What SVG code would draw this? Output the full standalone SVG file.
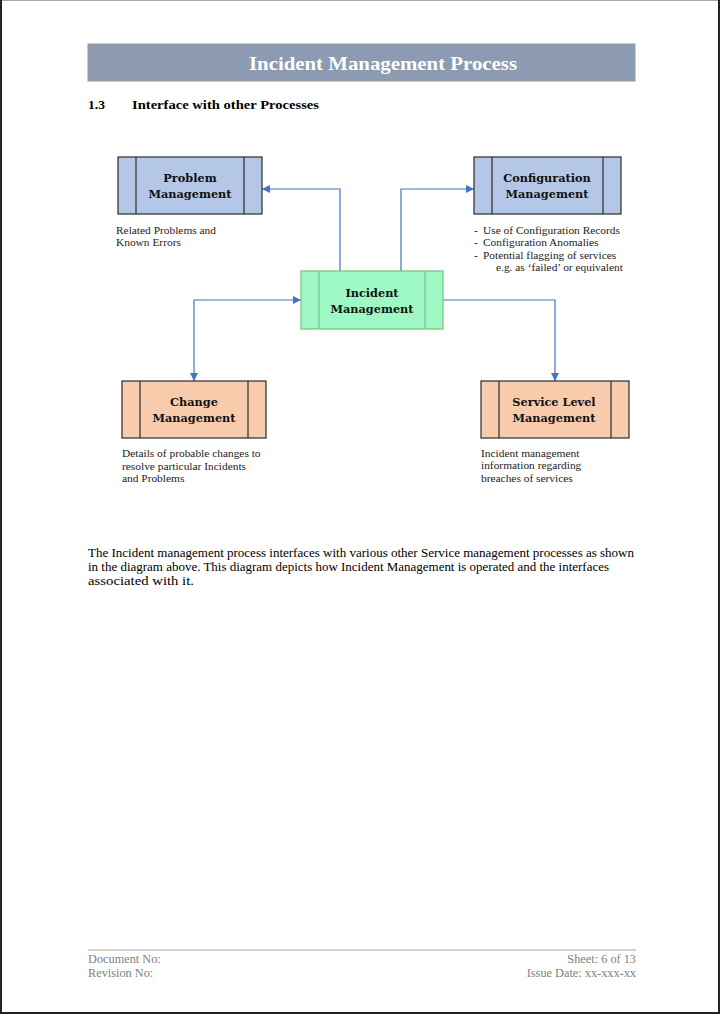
<svg xmlns="http://www.w3.org/2000/svg" width="720" height="1014" viewBox="0 0 720 1014">
<defs>
<style>
.t{font-family:"Liberation Serif","DejaVu Serif",serif;fill:#000}
.b{font-weight:bold}
.title{font-family:"Liberation Serif","DejaVu Serif",serif;font-weight:bold;font-size:19.5px;fill:#fff;text-anchor:middle}
.nt{font-family:"DejaVu Serif","Liberation Serif",serif;font-weight:bold;font-size:11.3px;fill:#111;text-anchor:middle}
.sm{font-family:"Liberation Serif","DejaVu Serif",serif;font-size:11.4px;fill:#222}
.ft{font-family:"Liberation Serif","DejaVu Serif",serif;font-size:12.3px;fill:#808080}
.blue{fill:#b4c7e7;stroke:#2b2b2b;stroke-width:1.2}
.green{fill:#9ef9c4;stroke:#78c47e;stroke-width:1.2}
.peach{fill:#f8cbad;stroke:#2b2b2b;stroke-width:1.2}
.conn{fill:none;stroke:#4472c4;stroke-width:1.2}
</style>
<marker id="ah" viewBox="0 0 10 10" refX="10" refY="5" markerWidth="8" markerHeight="8" markerUnits="userSpaceOnUse" orient="auto-start-reverse">
<path d="M0,0 L10,5 L0,10 z" fill="#4472c4"/>
</marker>
</defs>
<rect x="0" y="0" width="720" height="1014" fill="#fff"/>
<path d="M0.5,1013.5 V0.5 H719.5" fill="none" stroke="#aaa" stroke-width="1"/>
<path d="M1,0 V1013 H719 V0" fill="none" stroke="#222" stroke-width="2"/>

<g id="header">
<rect x="88" y="44" width="547" height="37" fill="#8c9bb1" stroke="#9a9a9a" stroke-width="1"/>
<text x="383" y="70" class="title" textLength="268" lengthAdjust="spacingAndGlyphs">Incident Management Process</text>
</g>
<g id="section">
<text x="88" y="109" class="t b" font-size="13.5">1.3</text>
<text x="132" y="109" class="t b" font-size="13.5" textLength="187" lengthAdjust="spacingAndGlyphs">Interface with other Processes</text>
</g>

<g id="connectors">
<path class="conn" d="M340,271 V189 H262" marker-end="url(#ah)"/>
<path class="conn" d="M401,271 V189 H474" marker-end="url(#ah)"/>
<path class="conn" d="M301,300 H194 V381" marker-start="url(#ah)" marker-end="url(#ah)"/>
<path class="conn" d="M443,300 H555 V381" marker-end="url(#ah)"/>
</g>

<g id="problem">
<rect class="blue" x="118" y="157" width="144" height="57"/>
<line x1="136" y1="157" x2="136" y2="214" stroke="#2b2b2b" stroke-width="1.2"/>
<line x1="244" y1="157" x2="244" y2="214" stroke="#2b2b2b" stroke-width="1.2"/>
<text class="nt" x="190" y="182">Problem</text>
<text class="nt" x="190" y="198">Management</text>
<text class="sm" x="116" y="234">Related Problems and</text>
<text class="sm" x="116" y="246">Known Errors</text>
</g>

<g id="configuration">
<rect class="blue" x="474" y="157" width="147" height="57"/>
<line x1="492" y1="157" x2="492" y2="214" stroke="#2b2b2b" stroke-width="1.2"/>
<line x1="603" y1="157" x2="603" y2="214" stroke="#2b2b2b" stroke-width="1.2"/>
<text class="nt" x="547" y="182">Configuration</text>
<text class="nt" x="547" y="198">Management</text>
<text class="sm" x="474" y="234">-</text>
<text class="sm" x="483" y="234">Use of Configuration Records</text>
<text class="sm" x="474" y="246">-</text>
<text class="sm" x="483" y="246">Configuration Anomalies</text>
<text class="sm" x="474" y="259">-</text>
<text class="sm" x="483" y="259">Potential flagging of services</text>
<text class="sm" x="496" y="271">e.g. as ‘failed’ or equivalent</text>
</g>

<g id="incident">
<rect class="green" x="301" y="271" width="142" height="58"/>
<line x1="319" y1="271" x2="319" y2="329" stroke="#78c47e" stroke-width="1.2"/>
<line x1="425" y1="271" x2="425" y2="329" stroke="#78c47e" stroke-width="1.2"/>
<text class="nt" x="372" y="297">Incident</text>
<text class="nt" x="372" y="313">Management</text>
</g>

<g id="change">
<rect class="peach" x="122" y="381" width="144" height="57"/>
<line x1="140" y1="381" x2="140" y2="438" stroke="#2b2b2b" stroke-width="1.2"/>
<line x1="248" y1="381" x2="248" y2="438" stroke="#2b2b2b" stroke-width="1.2"/>
<text class="nt" x="194" y="406">Change</text>
<text class="nt" x="194" y="422">Management</text>
<text class="sm" x="122" y="457">Details of probable changes to</text>
<text class="sm" x="122" y="470">resolve particular Incidents</text>
<text class="sm" x="122" y="482">and Problems</text>
</g>

<g id="servicelevel">
<rect class="peach" x="481" y="381" width="148" height="57"/>
<line x1="499" y1="381" x2="499" y2="438" stroke="#2b2b2b" stroke-width="1.2"/>
<line x1="611" y1="381" x2="611" y2="438" stroke="#2b2b2b" stroke-width="1.2"/>
<text class="nt" x="554" y="406">Service Level</text>
<text class="nt" x="554" y="422">Management</text>
<text class="sm" x="481" y="457">Incident management</text>
<text class="sm" x="481" y="469">information regarding</text>
<text class="sm" x="481" y="482">breaches of services</text>
</g>

<g id="body">
<text class="t" font-size="12.3" x="88" y="557" textLength="546" lengthAdjust="spacingAndGlyphs">The Incident management process interfaces with various other Service management processes as shown</text>
<text class="t" font-size="12.3" x="88" y="571" textLength="521" lengthAdjust="spacingAndGlyphs">in the diagram above. This diagram depicts how Incident Management is operated and the interfaces</text>
<text class="t" font-size="12.3" x="88" y="585" textLength="106" lengthAdjust="spacingAndGlyphs">associated with it.</text>
</g>

<g id="footer">
<line x1="88" y1="950" x2="636" y2="950" stroke="#aaa" stroke-width="1"/>
<text class="ft" x="88" y="963">Document No:</text>
<text class="ft" x="88" y="977">Revision No:</text>
<text class="ft" x="636" y="963" text-anchor="end">Sheet: 6 of 13</text>
<text class="ft" x="636" y="977" text-anchor="end">Issue Date: xx-xxx-xx</text>
</g>
</svg>
